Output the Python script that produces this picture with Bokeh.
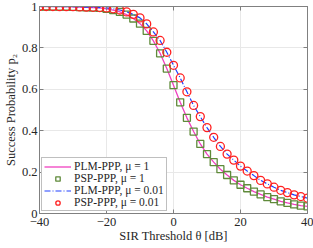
from bokeh.plotting import figure
from bokeh.models import LinearAxis, FixedTicker, CustomJSTickFormatter, Legend, LegendItem
from bokeh.embed import file_html
from bokeh.resources import INLINE

theta_db = [-40, -38, -36, -34, -32, -30, -28, -26, -24, -22, -20, -18, -16, -14, -12, -10,
            -8, -6, -4, -2, 0, 2, 4, 6, 8, 10, 12, 14, 16, 18, 20, 22, 24, 26, 28, 30, 32,
            34, 36, 38, 40]

plm_mu1 = [1.0, 1.0, 0.999, 0.999, 0.999, 0.998, 0.997, 0.996, 0.995, 0.993, 0.989, 0.983,
           0.974, 0.961, 0.942, 0.917, 0.882, 0.834, 0.774, 0.700, 0.620, 0.537, 0.462, 0.396,
           0.336, 0.287, 0.248, 0.214, 0.186, 0.160, 0.139, 0.122, 0.106, 0.092, 0.079, 0.069,
           0.059, 0.051, 0.044, 0.038, 0.034]
psp_mu1 = [1.0, 1.0, 0.999, 0.999, 0.999, 0.998, 0.997, 0.996, 0.995, 0.993, 0.989, 0.983,
           0.974, 0.961, 0.942, 0.917, 0.882, 0.834, 0.774, 0.700, 0.620, 0.537, 0.462, 0.396,
           0.336, 0.287, 0.248, 0.214, 0.186, 0.160, 0.139, 0.122, 0.106, 0.092, 0.079, 0.069,
           0.059, 0.051, 0.044, 0.038, 0.034]
plm_mu001 = [1.0, 1.0, 1.0, 0.999, 0.999, 0.999, 0.998, 0.997, 0.996, 0.995, 0.993, 0.989,
             0.983, 0.974, 0.962, 0.945, 0.916, 0.877, 0.836, 0.779, 0.716, 0.655, 0.588, 0.522,
             0.468, 0.415, 0.368, 0.324, 0.287, 0.258, 0.229, 0.205, 0.183, 0.160, 0.143, 0.127,
             0.112, 0.101, 0.090, 0.082, 0.074]
psp_mu001 = [1.0, 1.0, 1.0, 0.999, 0.999, 0.999, 0.998, 0.997, 0.996, 0.995, 0.993, 0.989,
             0.983, 0.974, 0.962, 0.945, 0.916, 0.877, 0.836, 0.779, 0.716, 0.655, 0.588, 0.522,
             0.468, 0.415, 0.368, 0.324, 0.287, 0.258, 0.229, 0.205, 0.183, 0.160, 0.143, 0.127,
             0.112, 0.101, 0.090, 0.082, 0.074]

x_ticks = [-40, -20, 0, 20, 40]
y_ticks = [0, 0.2, 0.4, 0.6, 0.8, 1]
labels = ["PLM-PPP, μ = 1", "PSP-PPP, μ = 1", "PLM-PPP, μ = 0.01", "PSP-PPP, μ = 0.01"]

FONT = "Liberation Serif"
AX = "#808080"

p = figure(width=313, height=248, output_backend="svg", toolbar_location=None,
           x_range=(-40, 40), y_range=(0, 1),
           min_border_left=35, min_border_right=6, min_border_top=6, min_border_bottom=35)
p.outline_line_color = AX
p.outline_line_width = 1
p.background_fill_color = "white"

for ax in (p.xaxis[0], p.yaxis[0]):
    ax.axis_line_color = AX
    ax.major_tick_line_color = AX
    ax.minor_tick_line_color = None
    ax.major_tick_in = 4
    ax.major_tick_out = 0
    ax.major_label_text_font = FONT
    ax.major_label_text_font_size = "12.5px"
    ax.major_label_text_color = "#262626"
    ax.axis_label_text_font = FONT
    ax.axis_label_text_font_size = "12.5px"
    ax.axis_label_text_font_style = "normal"
    ax.axis_label_text_color = "#262626"
    ax.major_label_standoff = 2
    ax.axis_label_standoff = 1

p.xaxis.major_label_standoff = 4
p.xaxis.axis_label_standoff = 0
p.xaxis.ticker = FixedTicker(ticks=x_ticks)
p.yaxis.ticker = FixedTicker(ticks=y_ticks)
p.yaxis.major_label_overrides = {0: "0", 1: "1"}
p.xaxis.axis_label = "SIR Threshold θ [dB]"
p.yaxis.axis_label = "Success Probability p₂"

blank = CustomJSTickFormatter(code="return ''")
top = LinearAxis(ticker=FixedTicker(ticks=x_ticks), formatter=blank,
                 major_tick_in=4, major_tick_out=0, minor_tick_line_color=None,
                 axis_line_color=AX, major_tick_line_color=AX,
                 major_label_text_font_size="0px", major_label_standoff=0)
right = LinearAxis(ticker=FixedTicker(ticks=y_ticks), formatter=blank,
                   major_tick_in=4, major_tick_out=0, minor_tick_line_color=None,
                   axis_line_color=AX, major_tick_line_color=AX,
                   major_label_text_font_size="0px", major_label_standoff=0)
p.add_layout(top, "above")
p.add_layout(right, "right")

p.xgrid.ticker = FixedTicker(ticks=x_ticks)
p.ygrid.ticker = FixedTicker(ticks=y_ticks)
p.grid.grid_line_color = "#e8e8e8"
p.grid.grid_line_width = 1

r1 = p.line(theta_db, plm_mu1, line_color="#f040c0", line_width=1.3)
r2 = p.scatter(theta_db, psp_mu1, marker="square", size=7, fill_color=None,
               line_color="#5f8a3a", line_width=1.3)
r3 = p.line(theta_db, plm_mu001, line_color="#2040ff", line_width=1.2, line_dash="6 2 1 2")
r4 = p.scatter(theta_db, psp_mu001, marker="circle", size=8, fill_color=None,
               line_color="#ff2020", line_width=1.3)

legend = Legend(items=[LegendItem(label=labels[0], renderers=[r1]),
                       LegendItem(label=labels[1], renderers=[r2]),
                       LegendItem(label=labels[2], renderers=[r3]),
                       LegendItem(label=labels[3], renderers=[r4])],
                location="bottom_left")
legend.label_text_font = FONT
legend.label_text_font_size = "11.5px"
legend.label_text_color = "#262626"
legend.label_height = 11
legend.glyph_height = 11
legend.glyph_width = 27
legend.label_standoff = 3
legend.spacing = 0
legend.padding = 2
legend.margin = 2
legend.border_line_color = AX
legend.border_line_width = 1
legend.background_fill_alpha = 1
p.add_layout(legend)

open("out.html", "w").write(file_html(p, INLINE))
